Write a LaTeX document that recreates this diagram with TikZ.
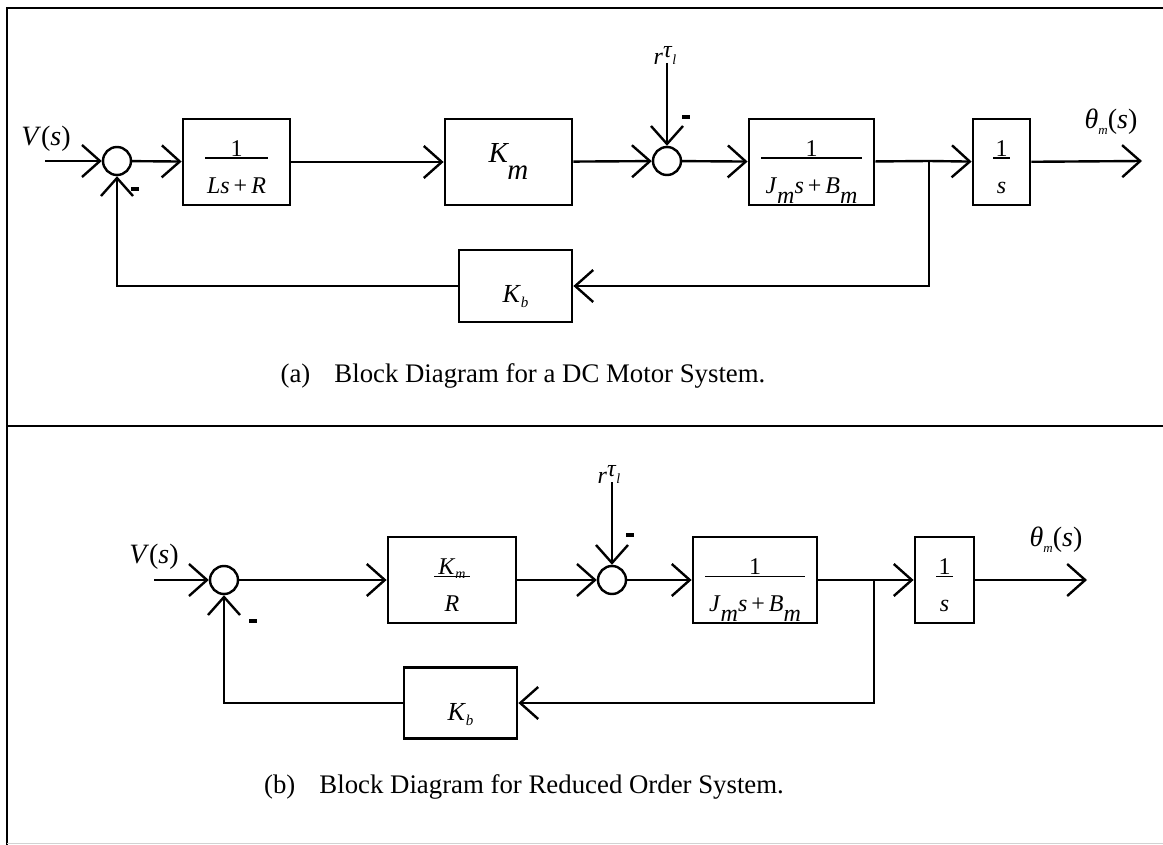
\documentclass[tikz,border=0pt]{standalone}
\usepackage{fontspec}
\setmainfont{Liberation Serif}
\usetikzlibrary{arrows.meta}

\tikzset{every picture/.style={line width=2.4pt}}
\tikzset{
  blk/.style={draw, line width=2.8pt, minimum height=86pt, inner sep=0pt, font=\fontsize{24}{28}\selectfont},
  sumpt/.style={draw, circle, minimum size=28pt, inner sep=0pt},
  sig/.style={-{Straight Barb[length=18pt,width=32pt,line width=2.4pt]}},
  lbl/.style={inner sep=0pt, font=\fontsize{28}{32}\selectfont},
  minus/.style={inner sep=0pt},
  captxt/.style={inner sep=0pt, font=\fontsize{26.8}{31}\selectfont}
}
\newcommand{\blkfrac}[3]{\begin{tabular}{@{}c@{}}\rule{0pt}{33.6pt}#1\\[-25pt]\rule{#3}{1.6pt}\\[6pt]#2\end{tabular}}
\newcommand{\jmsbm}{\textit{J}\smash{\raisebox{-10pt}{\textit{m}}}\textit{s}\kern4pt+\kern4pt\textit{B}\smash{\raisebox{-10pt}{\textit{m}}}}
\newcommand{\kbtxt}{\raisebox{0pt}[34pt][0pt]{\fontsize{26}{30}\selectfont\textit{K}\raisebox{-5pt}{\fontsize{15}{16}\selectfont\textit{b}}}}
\newcommand{\rtautxt}{{\fontsize{24}{28}\selectfont\textit{r}\raisebox{7pt}{\textit{τ}}{\fontsize{14}{15}\selectfont\textit{l}}}}
\newcommand{\thetatxt}{\textit{θ}\raisebox{-6pt}{\fontsize{13}{14}\selectfont\textit{m}}(\textit{s})}
\newcommand{\minustxt}{\rule{8pt}{3.5pt}}

\begin{document}
\begin{tikzpicture}[x=1pt,y=1pt,yscale=-1,xscale=1]
\useasboundingbox (0,0) rectangle (1163,845);

%Frame
\draw [line width=2.8pt] (7,845) -- (7,8) -- (1163,8) ;
\draw [line width=2.8pt] (7,426) -- (1163,426) ;
\draw [gray!35, line width=1pt] (7,843) -- (1163,843) ;

%%%%%%%% (a) DC motor system

%Shape: Circle
\node [sumpt] (sa1) at (117,161) {};
\node [sumpt] (sa2) at (667,161) {};
%Shape: Rectangle
\node [blk, minimum width=107pt] (ga1) at (236.5,162) {\blkfrac{1}{\textit{Ls}\kern4pt+\kern4pt\textit{R}}{63pt}};
\node [blk, minimum width=127pt, font=\fontsize{29}{32}\selectfont] (gak) at (508.5,162) {\textit{K}\kern-2pt\raisebox{-17pt}{\textit{m}}};
\node [blk, minimum width=125pt] (ga2) at (811.5,162) {\blkfrac{1}{\jmsbm}{101pt}};
\node [blk, minimum width=57pt] (ga3) at (1001.5,162) {\blkfrac{1}{\textit{s}}{17pt}};
\node [blk, minimum width=113pt, minimum height=72pt] (gab) at (515.5,286) {\kbtxt};

% Text Node
\node [lbl] (va) at (46,139) {\textit{V}(\textit{s})};
\node [lbl, anchor=south] (ta) at (665,66) {\rtautxt};
\node [lbl] (tha) at (1111,122) {\thetatxt};
\node [minus] (ma1) at (135,189) {\minustxt};
\node [minus] (ma2) at (686,117) {\minustxt};
\node [captxt] (capa) at (523,376) {(a)\hspace{0.9em}Block Diagram for a DC Motor System.};

\coordinate (ia) at (45,161);
\coordinate (oa) at (1142,161);
\coordinate (ja) at (929,161);
\coordinate (fa) at (929,286);
\coordinate (ka) at (117,286);
\coordinate (ra) at (667,63);

%Straight Lines
\draw [sig] (ia) -- (sa1);
\draw [sig] (sa1) -- (ga1);
\draw [sig] (ga1) -- (gak);
\draw [sig] (gak) -- (sa2);
\draw [sig] (sa2) -- (ga2);
\draw (ga2) -- (ja);
\draw [sig] (ja) -- (ga3);
\draw [sig] (ga3) -- (oa);
\draw [sig] (ja) -- (fa) -- (gab);
\draw [sig] (gab) -- (ka) -- (sa1);
\draw [sig] (ra) -- (sa2);

%%%%%%%% (b) reduced order system

%Shape: Circle
\node [sumpt] (sb1) at (224,580) {};
\node [sumpt] (sb2) at (612,580) {};
%Shape: Rectangle
\node [blk, minimum width=128pt] (gbk) at (452,580) {\blkfrac{\textit{K}\raisebox{-4pt}{\fontsize{14}{15}\selectfont\textit{m}}}{\textit{R}}{36pt}};
\node [blk, minimum width=124pt] (gb2) at (755,580) {\blkfrac{1}{\jmsbm}{100pt}};
\node [blk, minimum width=59pt] (gb3) at (944.5,580) {\blkfrac{1}{\textit{s}}{17pt}};
\node [blk, minimum width=113pt, minimum height=71pt] (gbb) at (460.5,703) {\kbtxt};

% Text Node
\node [lbl] (vb) at (154,557) {\textit{V}(\textit{s})};
\node [lbl, anchor=south] (tb) at (609,485) {\rtautxt};
\node [lbl] (thb) at (1056,540) {\thetatxt};
\node [minus] (mb1) at (253,621) {\minustxt};
\node [minus] (mb2) at (630,535) {\minustxt};
\node [captxt] (capb) at (524,787) {(b)\hspace{0.9em}Block Diagram for Reduced Order System.};

\coordinate (ib) at (154,580);
\coordinate (ob) at (1087,580);
\coordinate (jb) at (874,580);
\coordinate (fb) at (874,703);
\coordinate (kb) at (224,703);
\coordinate (rb) at (612,482);

%Straight Lines
\draw [sig] (ib) -- (sb1);
\draw [sig] (sb1) -- (gbk);
\draw [sig] (gbk) -- (sb2);
\draw [sig] (sb2) -- (gb2);
\draw (gb2) -- (jb);
\draw [sig] (jb) -- (gb3);
\draw [sig] (gb3) -- (ob);
\draw [sig] (jb) -- (fb) -- (gbb);
\draw [sig] (gbb) -- (kb) -- (sb1);
\draw [sig] (rb) -- (sb2);
\end{tikzpicture}
\end{document}
